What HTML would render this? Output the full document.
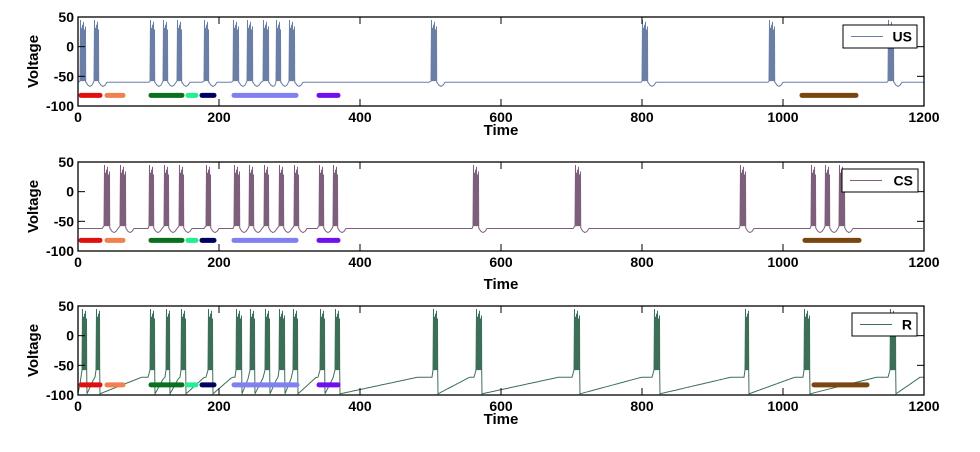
<!DOCTYPE html>
<html><head><meta charset="utf-8"><style>
body{margin:0;background:#fff;font-family:"Liberation Sans",Arial,sans-serif}
svg text{font-family:"Liberation Sans",Arial,sans-serif;font-weight:bold}
</style></head><body>
<svg id="s" width="980" height="447" xmlns="http://www.w3.org/2000/svg"></svg>
<script>
const S=document.getElementById('s');let h='';
const X0=78,X1=924;
const plots=[
 {top:17,bot:106,col:'#6a7ea6',name:'US',tl:135,leg:[843,25,917,48],
  bursts:[[80,85],[94,98],[150,154],[163,167],[177,181],[204,208],[233,238],[247,252],[263,268],[276,280],[289,294],[431,436],[642,647],[769,774],[888,893]],
  bars:[[79,102,'#e01010'],[105,125,'#f08050'],[149,184,'#0a7020'],[186,198,'#20f090'],[200,216,'#000060'],[232,298,'#8080f0'],[317,340,'#7010f0'],[800,858,'#7a4510']],barY:-82,base:-60,r:false},
 {top:162,bot:251,col:'#7d5e7b',name:'CS',tl:289,leg:[842,169,918,192],
  bursts:[[104,109],[120,125],[149,153],[164,168],[179,183],[206,210],[234,239],[249,253],[264,268],[279,283],[294,298],[319,323],[333,337],[473,478],[575,580],[740,745],[811,815],[825,829],[839,844]],
  bars:[[79,102,'#e01010'],[105,125,'#f08050'],[149,184,'#0a7020'],[186,198,'#20f090'],[200,216,'#000060'],[232,298,'#8080f0'],[317,340,'#7010f0'],[803,861,'#7a4510']],barY:-82,base:-62,r:false},
 {top:306,bot:395,col:'#3d6e58',name:'R',tl:424,leg:[852,313,917,336],
  bursts:[[82,86],[96,99],[150,154],[166,169],[181,185],[208,212],[236,241],[250,254],[265,269],[279,284],[293,297],[320,324],[335,339],[433,437],[476,481],[574,579],[654,659],[745,748],[804,809],[890,895]],
  bars:[[79,102,'#e01010'],[105,125,'#f08050'],[149,184,'#0a7020'],[186,198,'#20f090'],[200,216,'#000060'],[232,299,'#8080f0'],[317,340,'#7010f0'],[812,869,'#7a4510']],barY:-83,base:-80,r:true}
];
plots.forEach(p=>{
 const Y=v=>p.top+(50-v)*(p.bot-p.top)/150;
 const pts=[];
 let prevEnd=X0;
 const seg=(a,b,i)=>{for(let x=a;x<b;x+=2){
   let v=p.base;
   if(p.r){const f=(x-a)/Math.max(1,b-a);v=-98+28*Math.min(1,f*1.2);}
   else if(x-a<8&&i>0)v=p.base-7*Math.sin((x-a)/8*Math.PI);
   pts.push([x,v]);}};
 p.bursts.forEach((b,i)=>{
  seg(prevEnd,b[0],i);
  let k=0;
  for(let x=b[0];x<=b[1];x+=1,k++){
   pts.push([x,-58]);pts.push([x+0.5,45-((k*13)%18)]);
  }
  pts.push([b[1]+0.7,-60]);
  prevEnd=b[1]+1;
 });
 seg(prevEnd,X1+1,1);
 const d=pts.map((q,i)=>(i?'L':'M')+q[0].toFixed(1)+' '+Math.max(p.top,Math.min(p.bot,Y(q[1]))).toFixed(1)).join('');
 h+=`<path d="${d}" fill="none" stroke="${p.col}" stroke-width="1"/>`;
 p.bars.forEach(b=>{h+=`<line x1="${b[0]+2}" x2="${b[1]-2}" y1="${Y(p.barY)}" y2="${Y(p.barY)}" stroke="${b[2]}" stroke-width="5" stroke-linecap="round"/>`;});
 h+=`<rect x="${X0}" y="${p.top}" width="${X1-X0}" height="${p.bot-p.top}" fill="none" stroke="#000" stroke-width="1.3"/>`;
 for(let t=0;t<=1200;t+=200){const x=X0+t*(X1-X0)/1200;
  h+=`<line x1="${x}" x2="${x}" y1="${p.bot}" y2="${p.bot-7}" stroke="#000"/><line x1="${x}" x2="${x}" y1="${p.top}" y2="${p.top+7}" stroke="#000"/>`;
  h+=`<text x="${x}" y="${p.bot+16}" font-size="14" text-anchor="middle">${t}</text>`;}
 [50,0,-50,-100].forEach(v=>{const y=Y(v);
  h+=`<line x1="${X0}" x2="${X0+7}" y1="${y}" y2="${y}" stroke="#000"/><line x1="${X1}" x2="${X1-7}" y1="${y}" y2="${y}" stroke="#000"/>`;
  h+=`<text x="${X0-4}" y="${y+5}" font-size="14" text-anchor="end">${v}</text>`;});
 h+=`<text x="${(X0+X1)/2}" y="${p.tl}" font-size="15" text-anchor="middle">Time</text>`;
 h+=`<text transform="translate(38 ${(p.top+p.bot)/2}) rotate(-90)" font-size="15" text-anchor="middle">Voltage</text>`;
 const l=p.leg;
 h+=`<rect x="${l[0]}" y="${l[1]}" width="${l[2]-l[0]}" height="${l[3]-l[1]}" fill="#fff" stroke="#000"/>`;
 h+=`<line x1="${l[0]+8}" x2="${l[0]+40}" y1="${(l[1]+l[3])/2}" y2="${(l[1]+l[3])/2}" stroke="${p.col}"/>`;
 h+=`<text x="${l[2]-5}" y="${(l[1]+l[3])/2+5}" font-size="14" text-anchor="end">${p.name}</text>`;
});
S.innerHTML=h;
</script>
</body></html>
